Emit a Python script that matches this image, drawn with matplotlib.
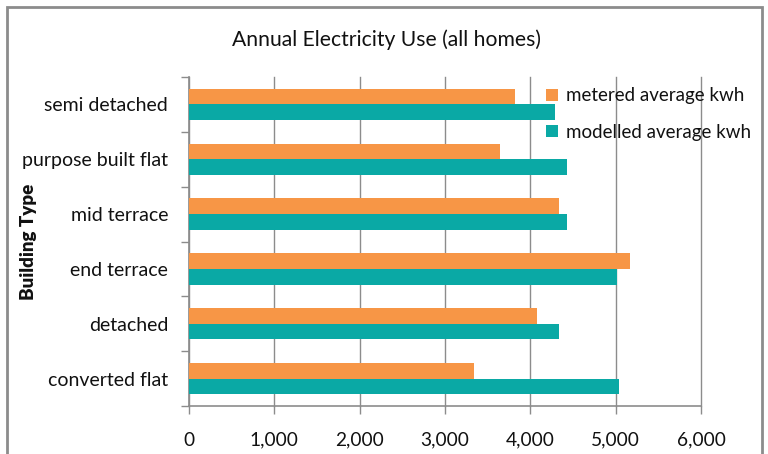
import matplotlib
matplotlib.use("Agg")
import matplotlib.pyplot as plt
import numpy as np
from matplotlib.patches import Rectangle
from matplotlib.ticker import FuncFormatter, MultipleLocator

# Building types listed bottom-to-top as they appear on the axis
building_types = ["converted flat", "detached", "end terrace",
                  "mid terrace", "purpose built flat", "semi detached"]
metered_kwh = [3341, 4080, 5165, 4332, 3639, 3816]
modelled_kwh = [5039, 4340, 5020, 4430, 4424, 4292]

ORANGE = "#F79646"
TEAL = "#0AA9A5"
GRID = "#8C8C8C"
TEXT = "#111111"

plt.rcParams["font.family"] = ["Lato", "DejaVu Sans"]

W, H = 768, 454
fig = plt.figure(figsize=(W / 100, H / 100), dpi=100)
ax = fig.add_axes([189 / W, 1 - 406 / H, 512 / W, 329 / H])

y = np.arange(len(building_types))
h = 0.285
ax.barh(y + h / 2, metered_kwh, height=h, color=ORANGE,
        label="metered average kwh", zorder=3)
ax.barh(y - h / 2, modelled_kwh, height=h, color=TEAL,
        label="modelled average kwh", zorder=3)

ax.set_xlim(0, 6000)
ax.set_ylim(-0.5, len(building_types) - 0.5)
ax.xaxis.set_major_locator(MultipleLocator(1000))
ax.xaxis.set_major_formatter(FuncFormatter(lambda v, p: f"{int(v):,}"))
ax.grid(axis="x", color=GRID, linewidth=1.0, zorder=0)
for gl in ax.get_xgridlines():
    gl.set_clip_on(False)

ax.set_yticks(y)
ax.set_yticklabels(building_types)
ax.set_yticks(np.arange(-0.5, len(building_types)), minor=True)
ax.tick_params(axis="y", which="major", length=0, pad=15,
               labelsize=14, labelcolor=TEXT)
ax.tick_params(axis="y", which="minor", length=6, color=GRID, width=1)
ax.tick_params(axis="x", which="major", length=5.5, color=GRID, width=1,
               labelsize=13.8, pad=13, labelcolor=TEXT)

for side in ("top", "right"):
    ax.spines[side].set_visible(False)
for side in ("left", "bottom"):
    ax.spines[side].set_color(GRID)
    ax.spines[side].set_linewidth(1.2)

ax.set_ylabel("Building Type", fontsize=13.5, fontweight="heavy", color=TEXT)
ax.yaxis.set_label_coords(-0.297, 0.5)

fig.text(387 / W, 1 - 40 / H, "Annual Electricity Use (all homes)",
         ha="center", va="center", fontsize=15.2, color=TEXT)

leg = ax.legend(loc="upper left", bbox_to_anchor=(0.665, 1.02), frameon=False,
                fontsize=13.5, handlelength=0.6, handleheight=0.6,
                handletextpad=0.45, labelspacing=1.05)
for t in leg.get_texts():
    t.set_color(TEXT)

# outer chart-area border
fig.patches.append(Rectangle((7 / W, -0.05), 755 / W, 1 - 7 / H + 0.05,
                             transform=fig.transFigure, fill=False,
                             edgecolor="#8C8C8C", linewidth=2))

fig.savefig("out.png", dpi=100)
